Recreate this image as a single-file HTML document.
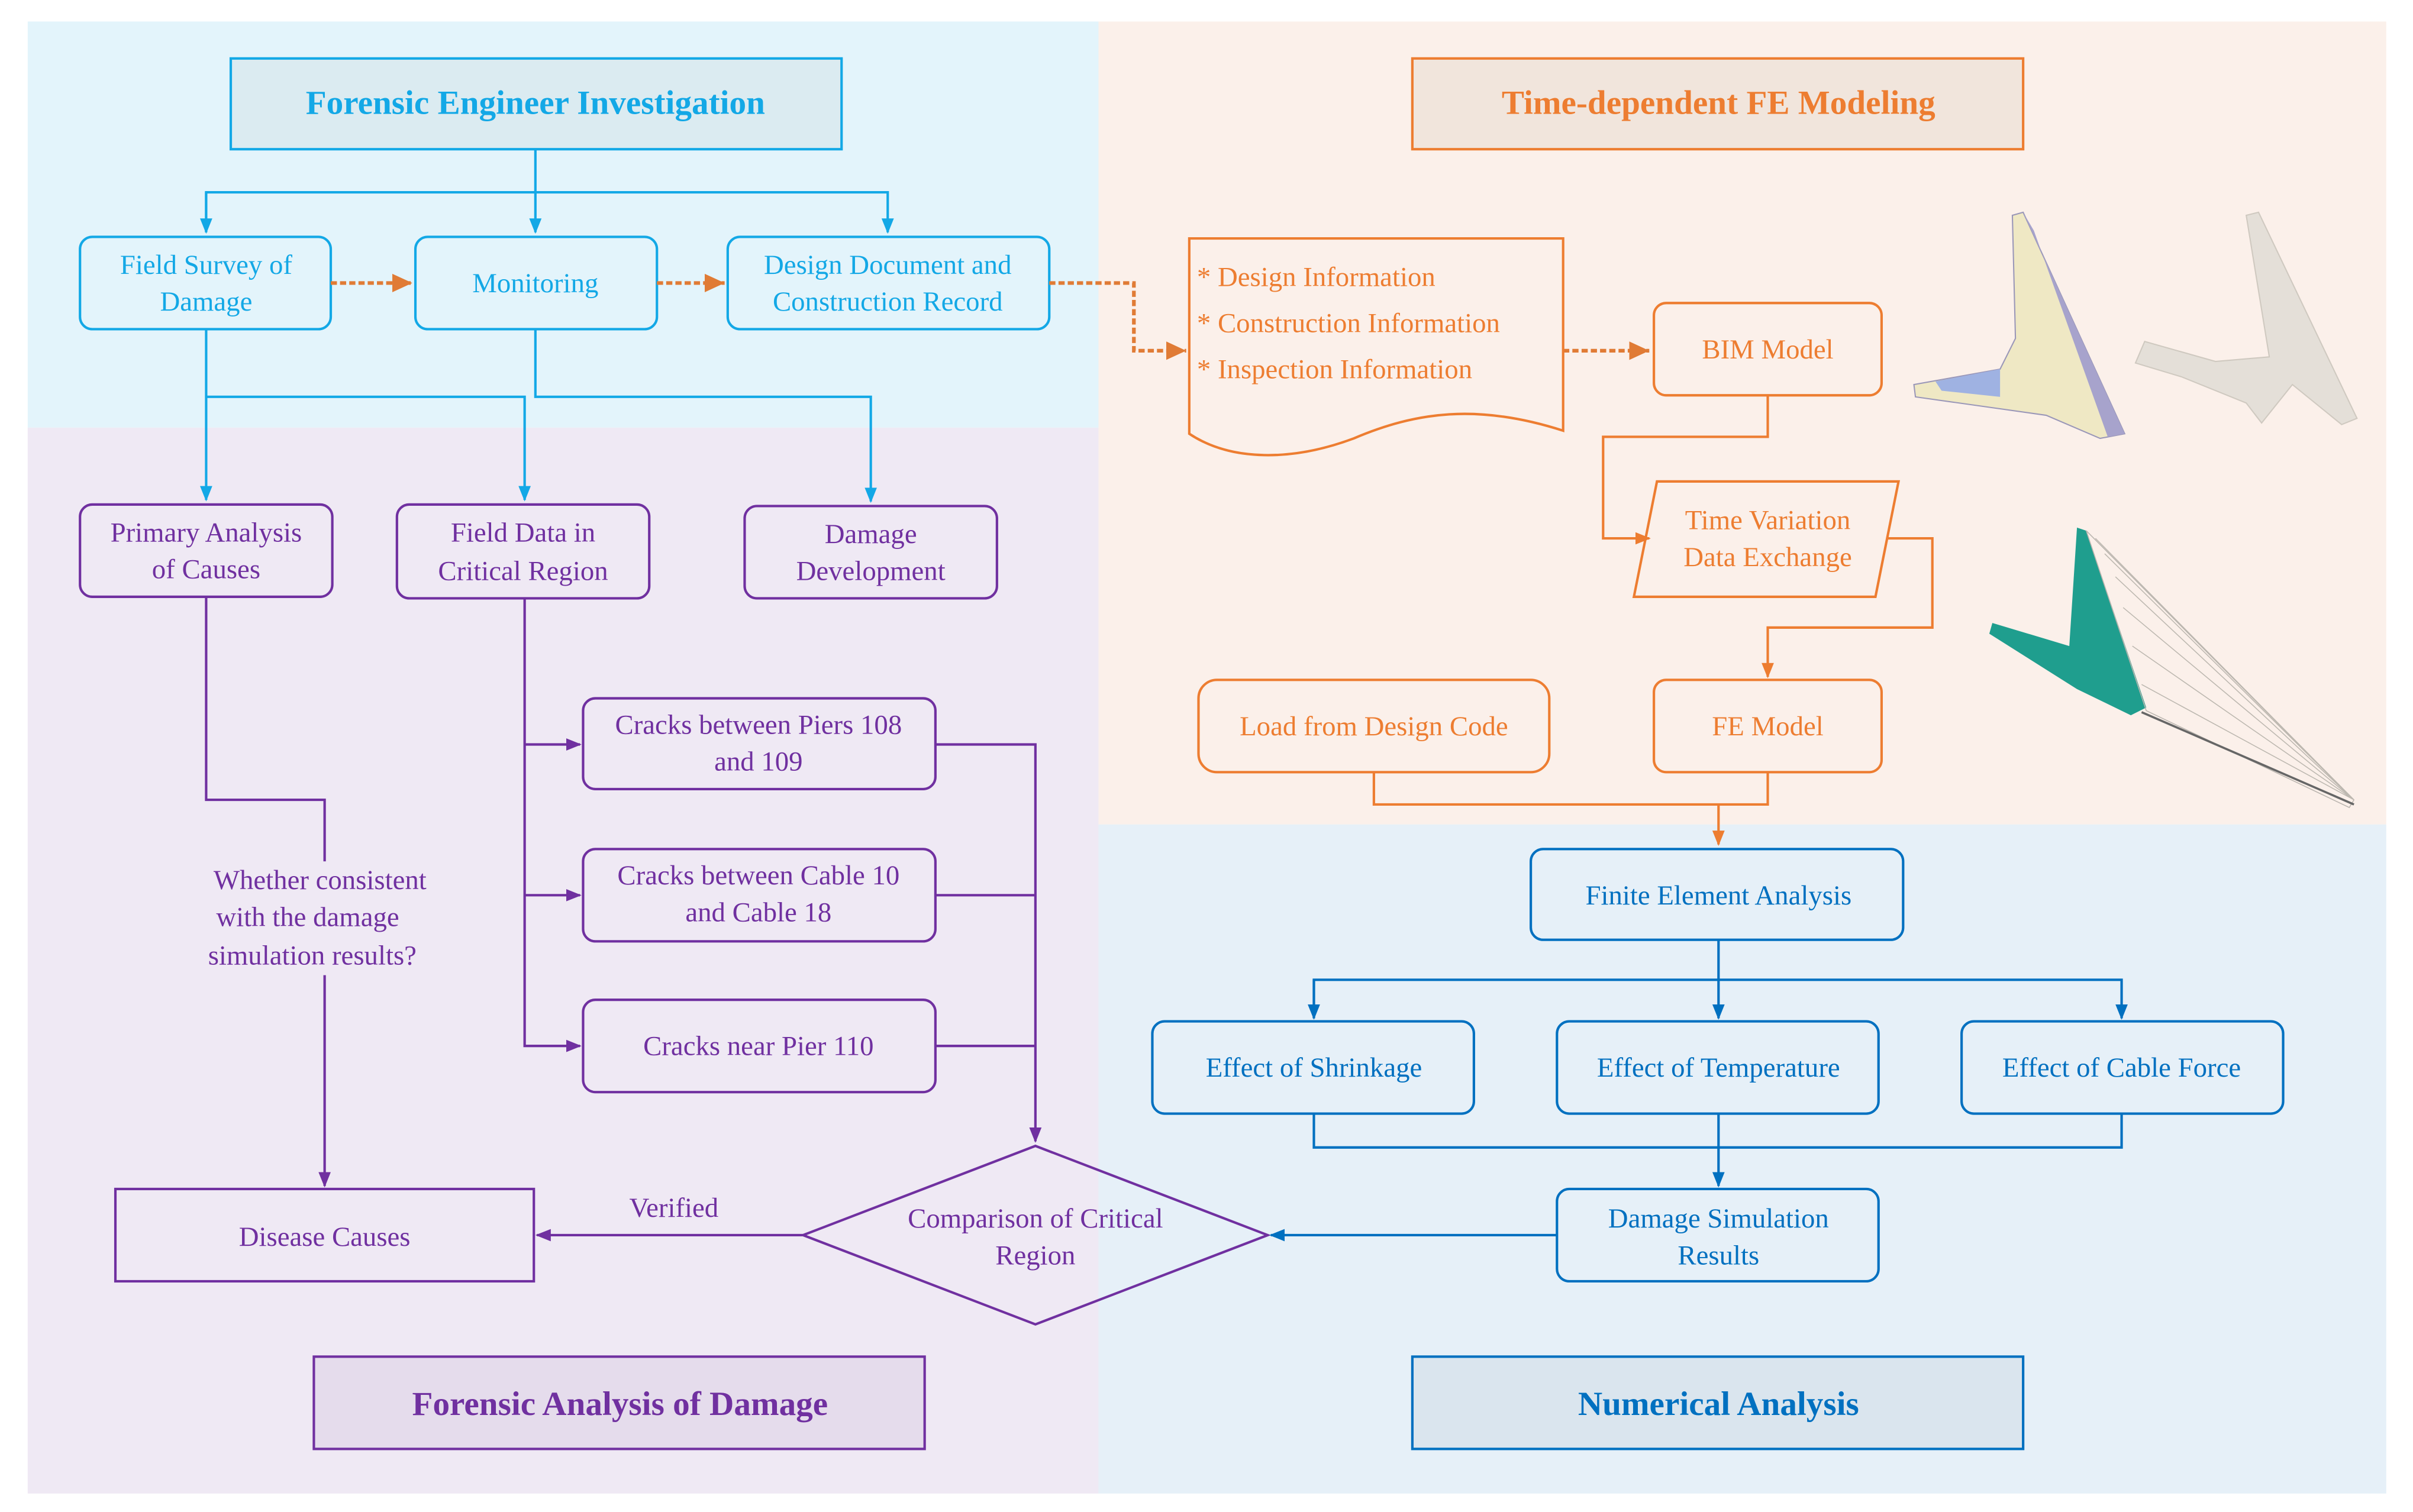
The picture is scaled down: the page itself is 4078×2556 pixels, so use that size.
<!DOCTYPE html>
<html><head><meta charset="utf-8"><style>
html,body{margin:0;padding:0;background:#fff}
svg{display:block}
svg text{font-family:"Liberation Serif","Times New Roman","DejaVu Serif",serif !important;}
</style></head><body>
<svg width="4078" height="2556" viewBox="0 0 1568.4 983" preserveAspectRatio="none" xmlns="http://www.w3.org/2000/svg" font-family="'Liberation Serif', 'Times New Roman', serif">
<defs>
<marker id="ab" markerWidth="10" markerHeight="10" refX="9" refY="5" orient="auto" markerUnits="userSpaceOnUse"><path d="M0,1 L10,5 L0,9z" fill="#13a8e6"/></marker>
<marker id="ap" markerWidth="10" markerHeight="10" refX="9" refY="5" orient="auto" markerUnits="userSpaceOnUse"><path d="M0,1 L10,5 L0,9z" fill="#7030a0"/></marker>
<marker id="ao" markerWidth="14" markerHeight="14" refX="13" refY="7" orient="auto" markerUnits="userSpaceOnUse"><path d="M0,1 L13,7 L0,13z" fill="#e07b35"/></marker>
<marker id="ao2" markerWidth="10" markerHeight="10" refX="9" refY="5" orient="auto" markerUnits="userSpaceOnUse"><path d="M0,1 L10,5 L0,9z" fill="#ed7d31"/></marker>
<marker id="ad" markerWidth="10" markerHeight="10" refX="9" refY="5" orient="auto" markerUnits="userSpaceOnUse"><path d="M0,1 L10,5 L0,9z" fill="#0070c0"/></marker>
</defs>
<rect x="18" y="14" width="696" height="264" fill="#e3f4fb"/>
<rect x="18" y="278" width="696" height="693" fill="#efe9f4"/>
<rect x="714" y="14" width="837" height="522" fill="#fbf0ea"/>
<rect x="714" y="536" width="837" height="435" fill="#e6f0f8"/>

<g fill="none" stroke="#13a8e6" stroke-width="1.6">
<rect x="150" y="38" width="397" height="59" fill="#dbebf1"/>
<rect x="52" y="154" width="163" height="60" rx="8"/>
<rect x="270" y="154" width="157" height="60" rx="8"/>
<rect x="473" y="154" width="209" height="60" rx="8"/>
<path d="M348 97 V151" marker-end="url(#ab)"/>
<path d="M134 151 V125 H577 V151" marker-end="url(#ab)"/>
<path d="M134 125 V151" marker-end="url(#ab)"/>
<path d="M134 214 V325" marker-end="url(#ab)"/>
<path d="M134 258 H341 V325" marker-end="url(#ab)"/>
<path d="M348 214 V258 H566 V326" marker-end="url(#ab)"/>
</g>
<g fill="#13a8e6" font-size="18" text-anchor="middle">
<text x="348" y="74" font-size="22" font-weight="bold">Forensic Engineer Investigation</text>
<text x="134" y="178">Field Survey of</text><text x="134" y="202">Damage</text>
<text x="348" y="190">Monitoring</text>
<text x="577" y="178">Design Document and</text><text x="577" y="202">Construction Record</text>
</g>
<g fill="none" stroke="#e07b35" stroke-width="2.4" stroke-dasharray="4,2">
<path d="M215 184 H268" marker-end="url(#ao)"/>
<path d="M427 184 H471" marker-end="url(#ao)"/>
<path d="M682 184 H737 V228 H771" marker-end="url(#ao)"/>
<path d="M1016 228 H1072" marker-end="url(#ao)"/>
</g>

<g fill="none" stroke="#7030a0" stroke-width="1.6">
<rect x="52" y="328" width="164" height="60" rx="8"/>
<rect x="258" y="328" width="164" height="61" rx="8"/>
<rect x="484" y="329" width="164" height="60" rx="8"/>
<rect x="379" y="454" width="229" height="59" rx="8"/>
<rect x="379" y="552" width="229" height="60" rx="8"/>
<rect x="379" y="650" width="229" height="60" rx="8"/>
<rect x="75" y="773" width="272" height="60"/>
<rect x="204" y="882" width="397" height="60" fill="#e5dcec"/>
<path d="M522 803 L673 745 L824 803 L673 861 Z"/>
<path d="M341 389 V680 H377" marker-end="url(#ap)"/>
<path d="M341 484 H377" marker-end="url(#ap)"/>
<path d="M341 582 H377" marker-end="url(#ap)"/>
<path d="M608 484 H673 V742" marker-end="url(#ap)"/>
<path d="M608 582 H673"/>
<path d="M608 680 H673"/>
<path d="M134 388 V520 H211 V560"/>
<path d="M211 634 V771" marker-end="url(#ap)"/>
<path d="M522 803 H349" marker-end="url(#ap)"/>
</g>
<g fill="#7030a0" font-size="18" text-anchor="middle">
<text x="134" y="352">Primary Analysis</text><text x="134" y="376">of Causes</text>
<text x="340" y="352">Field Data in</text><text x="340" y="377">Critical Region</text>
<text x="566" y="353">Damage</text><text x="566" y="377">Development</text>
<text x="493" y="477">Cracks between Piers 108</text><text x="493" y="501">and 109</text>
<text x="493" y="575">Cracks between Cable 10</text><text x="493" y="599">and Cable 18</text>
<text x="493" y="686">Cracks near Pier 110</text>
<text x="208" y="578">Whether consistent</text><text x="200" y="602">with the damage</text><text x="203" y="627">simulation results?</text>
<text x="211" y="810">Disease Causes</text>
<text x="438" y="791">Verified</text>
<text x="673" y="798">Comparison of Critical</text><text x="673" y="822">Region</text>
<text x="403" y="920" font-size="22" font-weight="bold">Forensic Analysis of Damage</text>
</g>

<g fill="none" stroke="#ed7d31" stroke-width="1.6">
<rect x="918" y="38" width="397" height="59" fill="#f1e5dc"/>
<path d="M773 155 H1016 V280 C960 262 920 268 880 285 C840 300 800 300 773 282 Z"/>
<rect x="1075" y="197" width="148" height="60" rx="8"/>
<path d="M1077 313 H1234 L1219 388 H1062 Z"/>
<rect x="1075" y="442" width="148" height="60" rx="8"/>
<rect x="779" y="442" width="228" height="60" rx="12"/>
<path d="M1149 257 V284 H1042 V350 H1072" marker-end="url(#ao2)"/>
<path d="M1226 350 H1256 V408 H1149 V440" marker-end="url(#ao2)"/>
<path d="M893 502 V523 H1149 V502"/>
<path d="M1117 523 V549" marker-end="url(#ao2)"/>
</g>
<g fill="#ed7d31" font-size="18">
<text x="1117" y="74" font-size="22" font-weight="bold" text-anchor="middle">Time-dependent FE Modeling</text>
<text x="778" y="186">* Design Information</text>
<text x="778" y="216">* Construction Information</text>
<text x="778" y="246">* Inspection Information</text>
<text x="1149" y="233" text-anchor="middle">BIM Model</text>
<text x="1149" y="344" text-anchor="middle">Time Variation</text>
<text x="1149" y="368" text-anchor="middle">Data Exchange</text>
<text x="1149" y="478" text-anchor="middle">FE Model</text>
<text x="893" y="478" text-anchor="middle">Load from Design Code</text>
</g>
<g>
<path d="M1308 140 L1315 138 L1381 282 L1365 285 L1330 270 L1245 258 L1244 250 L1300 240 L1310 220 Z" fill="#efe8c4" stroke="#9a97b8" stroke-width="0.8"/>
<path d="M1315 138 L1381 282 L1370 284 L1322 150 Z" fill="#a7a3cc"/>
<path d="M1258 248 L1300 240 L1300 258 L1262 254 Z" fill="#9fb2e2"/>
<path d="M1460 140 L1468 138 L1532 272 L1522 276 L1490 250 L1470 275 L1460 262 L1418 245 L1388 236 L1394 222 L1440 235 L1475 232 Z" fill="#e4dfd8" stroke="#cfc9c0" stroke-width="0.8"/>
<path d="M1350 343 L1356 345 L1395 460 L1385 465 L1350 448 L1293 412 L1295 405 L1345 420 Z" fill="#1f9e8e"/>
<path d="M1356 345 L1530 520 L1527 525 L1395 462 Z" fill="none" stroke="#b9b4ae" stroke-width="0.6"/>
<path d="M1362 350 L1530 520 M1368 360 L1530 520 M1375 375 L1530 520 M1380 395 L1530 520 M1386 420 L1530 520 M1392 445 L1530 520" stroke="#bdb8b0" stroke-width="0.6"/>
<path d="M1392 463 L1530 523" stroke="#666" stroke-width="1.4"/>
</g>

<g fill="none" stroke="#0070c0" stroke-width="1.6">
<rect x="995" y="552" width="242" height="59" rx="8"/>
<rect x="749" y="664" width="209" height="60" rx="8"/>
<rect x="1012" y="664" width="209" height="60" rx="8"/>
<rect x="1275" y="664" width="209" height="60" rx="8"/>
<rect x="1012" y="773" width="209" height="60" rx="8"/>
<rect x="918" y="882" width="397" height="60" fill="#dae5ee"/>
<path d="M1117 611 V662" marker-end="url(#ad)"/>
<path d="M854 662 V637 H1379 V662" marker-end="url(#ad)"/>
<path d="M854 637 V662" marker-end="url(#ad)"/>
<path d="M854 724 V746 H1379 V724"/>
<path d="M1117 724 V771" marker-end="url(#ad)"/>
<path d="M1012 803 H826" marker-end="url(#ad)"/>
</g>
<g fill="#0070c0" font-size="18" text-anchor="middle">
<text x="1117" y="588">Finite Element Analysis</text>
<text x="854" y="700">Effect of Shrinkage</text>
<text x="1117" y="700">Effect of Temperature</text>
<text x="1379" y="700">Effect of Cable Force</text>
<text x="1117" y="798">Damage Simulation</text><text x="1117" y="822">Results</text>
<text x="1117" y="920" font-size="22" font-weight="bold">Numerical Analysis</text>
</g>
</svg>
</body></html>
